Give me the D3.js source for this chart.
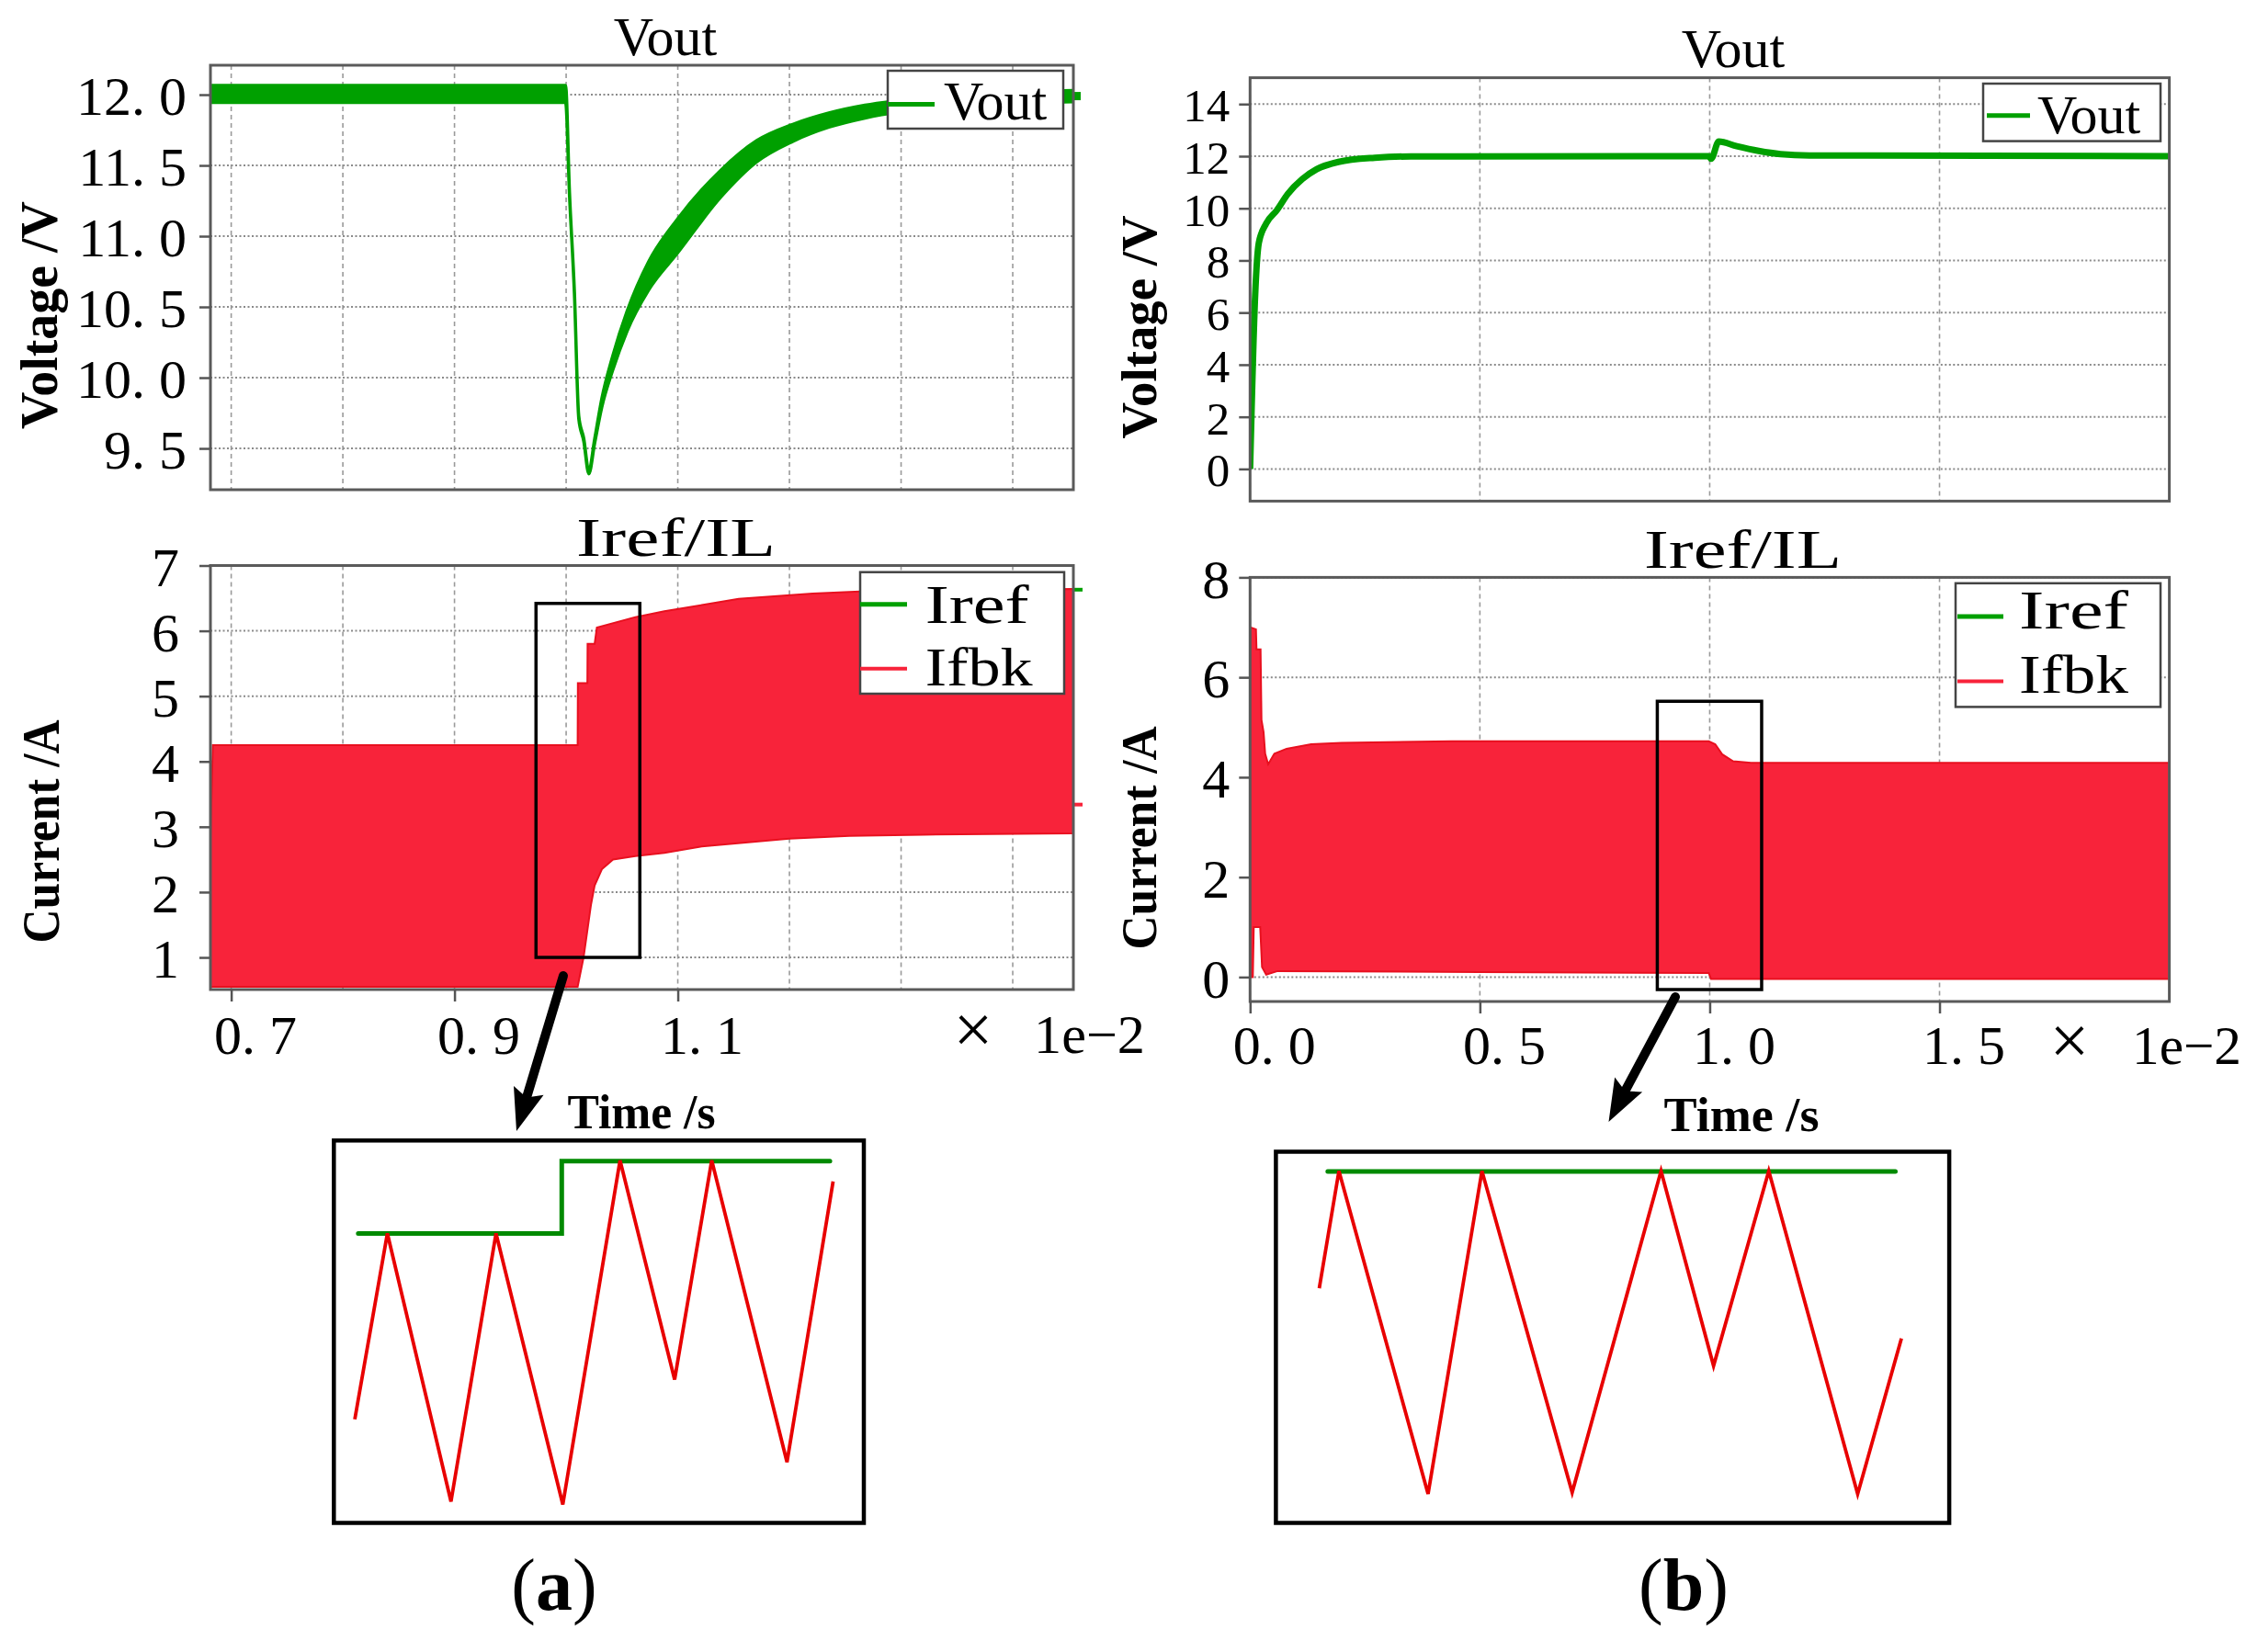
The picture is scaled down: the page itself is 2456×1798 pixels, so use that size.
<!DOCTYPE html>
<html><head><meta charset="utf-8">
<script src="https://cdn.jsdelivr.net/npm/d3@7"></script>
<style>html,body{margin:0;padding:0;background:#fff}</style>
</head><body>
<svg id="c" width="2456" height="1798" xmlns="http://www.w3.org/2000/svg"></svg>
<script>
// ===================== DATA =====================
// Panel (a) – time axis in units of 1e-2 s
const aXDomain = [0.6814, 1.4543];
const aXGrid = [0.7, 0.8, 0.9, 1.0, 1.1, 1.2, 1.3, 1.4];
const aXLabels = [0.7, 0.9, 1.1];
const aTopYDomain = [9.208, 12.208];
const aTopYTicks = [9.5, 10.0, 10.5, 11.0, 11.5, 12.0];
const aBotYDomain = [0.508, 7];
const aBotYTicks = [1, 2, 3, 4, 5, 6, 7];

// Vout (a): ripple band envelope
const voutA_t  = [0.6814, 0.9995, 1.003, 1.0074, 1.0113, 1.0158, 1.0203, 1.0255, 1.0319, 1.0416, 1.0546, 1.0739, 1.0997, 1.1384, 1.1707, 1.203, 1.2353, 1.2676, 1.2998, 1.3321, 1.3966, 1.4543];
const voutA_hi = [12.065, 12.065, 11.31, 10.61, 9.73, 9.57, 9.34, 9.565, 9.85, 10.15, 10.47, 10.82, 11.12, 11.465, 11.675, 11.79, 11.87, 11.925, 11.96, 11.99, 12.02, 12.03];
const voutA_lo = [11.945, 11.945, 11.29, 10.59, 9.71, 9.55, 9.32, 9.535, 9.79, 10.05, 10.33, 10.62, 10.88, 11.275, 11.525, 11.67, 11.77, 11.835, 11.88, 11.91, 11.94, 11.95];
const voutA_end = 11.99;

// Ifbk (a): inductor-current ripple envelope
const ifbkA_hiT = [0.6814, 0.6835, 1.0103, 1.0105, 1.019, 1.0192, 1.0255, 1.0275, 1.062, 1.088, 1.1545, 1.2207, 1.2868, 1.4543];
const ifbkA_hi  = [2.8, 4.25, 4.25, 5.2, 5.2, 5.8, 5.8, 6.05, 6.21, 6.3, 6.49, 6.57, 6.62, 6.64];
const ifbkA_loT = [0.6814, 1.0103, 1.0156, 1.0222, 1.0255, 1.032, 1.042, 1.062, 1.088, 1.1215, 1.2, 1.2537, 1.32, 1.4543];
const ifbkA_lo  = [0.55, 0.55, 1.0, 1.8, 2.1, 2.35, 2.5, 2.55, 2.6, 2.7, 2.82, 2.86, 2.88, 2.9];
const irefA_end = 6.63, ifbkA_end = 3.34;
const zoomA = {t0: 0.973, t1: 1.066, v0: 1.0, v1: 6.42};

// Panel (b)
const bXDomain = [0, 2];
const bXGrid = [0, 0.5, 1.0, 1.5];
const bXLabels = [0, 0.5, 1.0, 1.5];
const bTopYDomain = [-1.234, 15.01];
const bTopYTicks = [0, 2, 4, 6, 8, 10, 12, 14];
const bBotYDomain = [-0.489, 8];
const bBotYTicks = [0, 2, 4, 6, 8];

const voutB_t = [0, 0.011, 0.019, 0.035, 0.058, 0.082, 0.1136, 0.145, 0.192, 0.271, 0.35, 0.998, 1.003, 1.0197, 1.059, 1.1065, 1.154, 1.217, 2.0];
const voutB_v = [0, 6.65, 8.67, 9.42, 9.92, 10.55, 11.12, 11.5, 11.78, 11.94, 11.99, 12.0, 11.9, 12.56, 12.38, 12.2, 12.08, 12.03, 12.0];

const ifbkB_hiT = [0, 0.0128, 0.014, 0.0228, 0.0248, 0.0294, 0.0328, 0.0394, 0.0528, 0.0794, 0.1328, 0.199, 0.439, 0.998, 1.012, 1.027, 1.051, 1.09, 2.0];
const ifbkB_hi  = [7.0, 6.96, 6.56, 6.56, 5.15, 4.9, 4.47, 4.26, 4.47, 4.57, 4.66, 4.69, 4.72, 4.72, 4.66, 4.46, 4.32, 4.29, 4.29];
const ifbkB_loT = [0, 0.006, 0.008, 0.022, 0.026, 0.035, 0.06, 0.5, 0.998, 1.003, 2.0];
const ifbkB_lo  = [0, 0, 1.0, 1.0, 0.2, 0.05, 0.12, 0.1, 0.08, -0.04, -0.04];
const zoomB = {t0: 0.886, t1: 1.113, v0: -0.25, v1: 5.52};

// Insets (schematic zoom, normalised 0..100 box coordinates)
const insetA_redX = [3.95, 10.1, 22.1, 30.6, 43.2, 54.0, 64.3, 71.3, 85.5, 94.2];
const insetA_redY = [27.1, 75.7, 5.6, 75.7, 4.8, 94.8, 37.5, 94.8, 15.9, 89.3];
const insetA_grnX = [4.6, 43.0, 43.0, 93.6];
const insetA_grnY = [75.7, 75.7, 94.6, 94.6];
const insetB_redX = [6.44, 9.36, 22.6, 30.6, 44.0, 57.2, 65.0, 73.2, 86.4, 92.9];
const insetB_redY = [63.2, 94.8, 7.8, 94.8, 8.2, 94.8, 42.3, 94.8, 7.8, 49.7];
const insetB_grnX = [7.7, 92.0];
const insetB_grnY = [94.7, 94.7];

// ===================== STYLE / LAYOUT =====================
const FONT = "'Liberation Serif','Times New Roman',serif";
const GREEN = "#00a000", RED = "#f8233a", RED_EDGE = "#e8101f";
const INSET_RED = "#e80000", INSET_GREEN = "#008a00";
const svg = d3.select("#c");
svg.append("rect").attr("width", 2456).attr("height", 1798).attr("fill", "#fff");

const fmt1 = d => d3.format(".1f")(d).replace(".", ". ");
const fmt0 = d => d3.format("d")(d);

let clipId = 0;
function makePanel(cfg) {
  const x = d3.scaleLinear().domain(cfg.xDomain).range([cfg.x0, cfg.x1]);
  const y = d3.scaleLinear().domain(cfg.yDomain).range([cfg.y1, cfg.y0]);
  const id = "clip" + (clipId++);
  svg.append("clipPath").attr("id", id).append("rect")
    .attr("x", cfg.x0).attr("y", cfg.y0).attr("width", cfg.x1 - cfg.x0).attr("height", cfg.y1 - cfg.y0);
  const grid = svg.append("g");
  grid.selectAll("line.h").data(cfg.yTicks).join("line").attr("class", "h")
    .attr("x1", cfg.x0).attr("x2", cfg.x1).attr("y1", d => y(d)).attr("y2", d => y(d))
    .attr("stroke", "#8a8a8a").attr("stroke-width", 2).attr("stroke-dasharray", "2,2.5");
  grid.selectAll("line.v").data(cfg.xGrid).join("line").attr("class", "v")
    .attr("x1", d => x(d)).attr("x2", d => x(d)).attr("y1", cfg.y0).attr("y2", cfg.y1)
    .attr("stroke", "#9a9a9a").attr("stroke-width", 1.6).attr("stroke-dasharray", "5,4");
  const data = svg.append("g").attr("clip-path", `url(#${id})`);
  return {x, y, data, cfg};
}

function finishPanel(p) {
  const cfg = p.cfg;
  svg.append("rect").attr("x", cfg.x0).attr("y", cfg.y0)
    .attr("width", cfg.x1 - cfg.x0).attr("height", cfg.y1 - cfg.y0)
    .attr("fill", "none").attr("stroke", "#5a5a5a").attr("stroke-width", 3);
  const ya = svg.append("g").attr("transform", `translate(${cfg.x0},0)`)
    .call(d3.axisLeft(p.y).tickValues(cfg.yTicks).tickSize(12).tickPadding(cfg.yPad).tickFormat(cfg.yFmt));
  ya.select(".domain").remove();
  ya.selectAll("line").attr("stroke", "#555").attr("stroke-width", 2.5);
  ya.selectAll("text").attr("font-family", FONT).attr("font-size", cfg.yFont || 60).attr("fill", "#000").attr("dy", "0.36em");
  if (cfg.xLabels) {
    const xa = svg.append("g").attr("transform", `translate(0,${cfg.y1})`)
      .call(d3.axisBottom(p.x).tickValues(cfg.xLabels).tickSize(13).tickFormat(cfg.xFmt));
    xa.select(".domain").remove();
    xa.selectAll("line").attr("stroke", "#555").attr("stroke-width", 2.5);
    xa.selectAll("text").attr("font-family", FONT).attr("font-size", 60).attr("fill", "#000")
      .attr("y", cfg.xLabelY).attr("dy", 0).attr("x", -19).attr("text-anchor", "start");
  }
}

function bandPath(p, hiT, hi, loT, lo) {
  const up = hiT.map((t, i) => [p.x(t), p.y(hi[i])]);
  const dn = loT.map((t, i) => [p.x(t), p.y(lo[i])]).reverse();
  return d3.line()(up.concat(dn)) + "Z";
}

function legend(box, items) {
  const g = svg.append("g");
  g.append("rect").attr("x", box.x0).attr("y", box.y0).attr("width", box.x1 - box.x0).attr("height", box.y1 - box.y0)
    .attr("fill", "#fff").attr("stroke", "#444").attr("stroke-width", 2.5);
  items.forEach(it => {
    g.append("line").attr("x1", it.lx0).attr("x2", it.lx1).attr("y1", it.ly).attr("y2", it.ly)
      .attr("stroke", it.color).attr("stroke-width", it.w);
    const t = g.append("text").attr("x", it.tx).attr("y", it.ty).attr("font-family", FONT)
      .attr("font-size", 60).attr("fill", "#000").text(it.label);
    if (it.len) t.attr("textLength", it.len).attr("lengthAdjust", "spacingAndGlyphs");
  });
}

function text(x, y, str, opts = {}) {
  const t = svg.append("text").attr("x", x).attr("y", y).attr("font-family", FONT)
    .attr("font-size", opts.size || 60).attr("font-weight", opts.weight || "normal")
    .attr("text-anchor", opts.anchor || "middle").attr("fill", "#000").text(str);
  if (opts.len) t.attr("textLength", opts.len).attr("lengthAdjust", "spacingAndGlyphs");
  if (opts.rotate) t.attr("transform", `rotate(-90,${x},${y})`);
  return t;
}

function arrow(x1, y1, x2, y2) {
  const dx = x2 - x1, dy = y2 - y1, L = Math.hypot(dx, dy);
  const ux = dx / L, uy = dy / L, nx = -uy, ny = ux;
  const hl = 46, hw = 17;
  const bx = x2 - ux * hl, by = y2 - uy * hl;
  svg.append("line").attr("x1", x1).attr("y1", y1).attr("x2", bx + ux * 6).attr("y2", by + uy * 6)
    .attr("stroke", "#000").attr("stroke-width", 10).attr("stroke-linecap", "round");
  const pts = [[x2, y2], [bx + nx * hw, by + ny * hw], [bx + ux * 8, by + uy * 8], [bx - nx * hw, by - ny * hw]];
  svg.append("path").attr("d", d3.line()(pts) + "Z").attr("fill", "#000");
}

function inset(box, rx, ry, gx, gy) {
  const x = d3.scaleLinear().domain([0, 100]).range([box.x0, box.x1]);
  const y = d3.scaleLinear().domain([0, 100]).range([box.y1, box.y0]);
  svg.append("rect").attr("x", box.x0).attr("y", box.y0).attr("width", box.x1 - box.x0).attr("height", box.y1 - box.y0)
    .attr("fill", "#fff").attr("stroke", "#000").attr("stroke-width", 4.5);
  const ln = d3.line().x(d => x(d[0])).y(d => y(d[1]));
  svg.append("path").attr("d", ln(gx.map((v, i) => [v, gy[i]]))).attr("fill", "none")
    .attr("stroke", INSET_GREEN).attr("stroke-width", 5).attr("stroke-linecap", "round");
  svg.append("path").attr("d", ln(rx.map((v, i) => [v, ry[i]]))).attr("fill", "none")
    .attr("stroke", INSET_RED).attr("stroke-width", 3.8).attr("stroke-linejoin", "miter");
}

// ===================== PANEL (a) top =====================
const pAT = makePanel({x0: 229, x1: 1168, y0: 71, y1: 533, xDomain: aXDomain, yDomain: aTopYDomain,
  yTicks: aTopYTicks, xGrid: aXGrid, yFmt: fmt1, yPad: 14});
pAT.data.append("path")
  .attr("d", d3.area().curve(d3.curveMonotoneX)
    .x((d, i) => pAT.x(voutA_t[i])).y0((d, i) => pAT.y(voutA_lo[i])).y1((d, i) => pAT.y(voutA_hi[i]))(voutA_t))
  .attr("fill", GREEN).attr("stroke", GREEN).attr("stroke-width", 3.5).attr("stroke-linejoin", "round");
svg.append("line").attr("x1", pAT.x(aXDomain[1]) - 8).attr("x2", pAT.x(aXDomain[1]) + 8)
  .attr("y1", pAT.y(voutA_end)).attr("y2", pAT.y(voutA_end)).attr("stroke", GREEN).attr("stroke-width", 9);
legend({x0: 966, x1: 1157, y0: 77, y1: 140},
  [{lx0: 966, lx1: 1017, ly: 113.6, color: GREEN, w: 5, tx: 1027, ty: 130, label: "Vout"}]);
finishPanel(pAT);
text(724, 60, "Vout");
text(62, 343, "Voltage /V", {size: 56, weight: "bold", rotate: true, len: 248});

// ===================== PANEL (a) bottom =====================
const pAB = makePanel({x0: 229, x1: 1168, y0: 615.5, y1: 1077, xDomain: aXDomain, yDomain: aBotYDomain,
  yTicks: aBotYTicks, xGrid: aXGrid, yFmt: fmt0, yPad: 22, xLabels: aXLabels, xFmt: fmt1, xLabelY: 70});
pAB.data.append("path").attr("d", bandPath(pAB, ifbkA_hiT, ifbkA_hi, ifbkA_loT, ifbkA_lo))
  .attr("fill", RED).attr("stroke", RED_EDGE).attr("stroke-width", 2);
svg.append("line").attr("x1", pAB.x(aXDomain[1])).attr("x2", pAB.x(aXDomain[1]) + 10)
  .attr("y1", pAB.y(irefA_end)).attr("y2", pAB.y(irefA_end)).attr("stroke", GREEN).attr("stroke-width", 4);
svg.append("line").attr("x1", pAB.x(aXDomain[1])).attr("x2", pAB.x(aXDomain[1]) + 10)
  .attr("y1", pAB.y(ifbkA_end)).attr("y2", pAB.y(ifbkA_end)).attr("stroke", RED).attr("stroke-width", 4);
svg.append("rect").attr("x", pAB.x(zoomA.t0)).attr("y", pAB.y(zoomA.v1))
  .attr("width", pAB.x(zoomA.t1) - pAB.x(zoomA.t0)).attr("height", pAB.y(zoomA.v0) - pAB.y(zoomA.v1))
  .attr("fill", "none").attr("stroke", "#000").attr("stroke-width", 3.5);
legend({x0: 936, x1: 1158, y0: 622.7, y1: 755}, [
  {lx0: 936, lx1: 987, ly: 657.7, color: GREEN, w: 5, tx: 1006.7, ty: 678.3, label: "Iref", len: 113},
  {lx0: 936, lx1: 987, ly: 727.7, color: RED, w: 4, tx: 1006.7, ty: 745.7, label: "Ifbk", len: 117}]);
finishPanel(pAB);
text(735.5, 605, "Iref/IL", {len: 217});
text(64, 905, "Current /A", {size: 56, weight: "bold", rotate: true, len: 243});
text(1059, 1146, "×", {size: 76});
text(1125, 1146, "1e\u22122", {anchor: "start", len: 121});
text(698, 1228, "Time /s", {size: 52, weight: "bold", len: 161});

// ===================== PANEL (b) top =====================
const pBT = makePanel({x0: 1360.3, x1: 2360.6, y0: 84.6, y1: 545.4, xDomain: bXDomain, yDomain: bTopYDomain,
  yTicks: bTopYTicks, xGrid: bXGrid, yFmt: fmt0, yPad: 10, yFont: 51});
pBT.data.append("path")
  .attr("d", d3.line().curve(d3.curveMonotoneX).x((d, i) => pBT.x(voutB_t[i])).y((d, i) => pBT.y(voutB_v[i]))(voutB_t))
  .attr("fill", "none").attr("stroke", GREEN).attr("stroke-width", 7).attr("stroke-linejoin", "round");
legend({x0: 2158, x1: 2351, y0: 91, y1: 153.6},
  [{lx0: 2162, lx1: 2209, ly: 125.7, color: GREEN, w: 5, tx: 2217, ty: 144.6, label: "Vout"}]);
finishPanel(pBT);
text(1886, 73, "Vout");
text(1258, 356, "Voltage /V", {size: 54, weight: "bold", rotate: true, len: 243});

// ===================== PANEL (b) bottom =====================
const pBB = makePanel({x0: 1360.3, x1: 2360.6, y0: 628.4, y1: 1090, xDomain: bXDomain, yDomain: bBotYDomain,
  yTicks: bBotYTicks, xGrid: bXGrid, yFmt: fmt0, yPad: 10, xLabels: bXLabels, xFmt: fmt1, xLabelY: 68});
pBB.data.append("path").attr("d", bandPath(pBB, ifbkB_hiT, ifbkB_hi, ifbkB_loT, ifbkB_lo))
  .attr("fill", RED).attr("stroke", RED_EDGE).attr("stroke-width", 2);
svg.append("rect").attr("x", pBB.x(zoomB.t0)).attr("y", pBB.y(zoomB.v1))
  .attr("width", pBB.x(zoomB.t1) - pBB.x(zoomB.t0)).attr("height", pBB.y(zoomB.v0) - pBB.y(zoomB.v1))
  .attr("fill", "none").attr("stroke", "#000").attr("stroke-width", 3.5);
legend({x0: 2128, x1: 2351, y0: 634.8, y1: 769.4}, [
  {lx0: 2130, lx1: 2180, ly: 671, color: GREEN, w: 5, tx: 2197, ty: 684, label: "Iref", len: 119},
  {lx0: 2130, lx1: 2180, ly: 741.6, color: RED, w: 4, tx: 2197, ty: 754, label: "Ifbk", len: 119}]);
finishPanel(pBB);
text(1896.5, 617.7, "Iref/IL", {len: 215});
text(1258, 912, "Current /A", {size: 54, weight: "bold", rotate: true, len: 243});
text(2252, 1158, "×", {size: 76});
text(2320, 1158, "1e\u22122", {anchor: "start", len: 119});
text(1895, 1231, "Time  /s", {size: 52, weight: "bold", len: 169});

// ===================== zoom insets + arrows =====================
inset({x0: 363.3, x1: 940, y0: 1241.3, y1: 1657.5}, insetA_redX, insetA_redY, insetA_grnX, insetA_grnY);
inset({x0: 1388.4, x1: 2121.1, y0: 1253.5, y1: 1657.5}, insetB_redX, insetB_redY, insetB_grnX, insetB_grnY);
arrow(613, 1062, 562, 1231);
arrow(1823, 1085, 1750.5, 1221);

// sub-figure labels
function subLabel(x, letter) {
  const t = svg.append("text").attr("x", x).attr("y", 1752).attr("font-family", FONT)
    .attr("font-size", 80).attr("text-anchor", "middle").attr("fill", "#000");
  t.append("tspan").text("(");
  t.append("tspan").attr("font-weight", "bold").text(letter);
  t.append("tspan").text(")");
}
subLabel(603, "a");
subLabel(1832, "b");
</script>
</body></html>
